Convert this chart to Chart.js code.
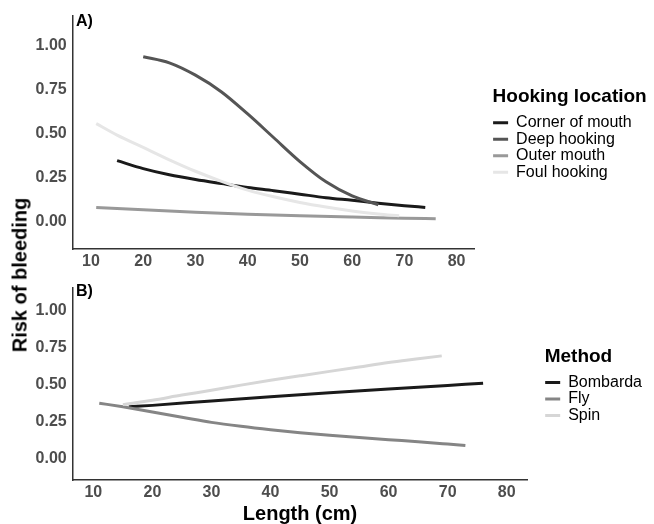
<!DOCTYPE html>
<html>
<head>
<meta charset="utf-8">
<script src="https://cdn.jsdelivr.net/npm/chart.js@4"></script>
<style>
	body { margin: 0; background: #fff; }
	#wrap { position: relative; width: 654px; height: 524px; font-family: "Liberation Sans", Arial, sans-serif; }
	canvas { position: absolute; left: 0; }
	#chart-a { top: 0; }
	#chart-b { top: 272px; }
	.panel-tag { position: absolute; left: 76px; font-weight: bold; font-size: 16px; line-height: 16px; color: #000; }
	#ytitle { position: absolute; left: 20px; top: 275px; transform: translate(-50%, -50%) rotate(-90deg); white-space: nowrap; font-weight: bold; font-size: 20px; color: #000; }
</style>
</head>
<body>
<div id="wrap">
	<canvas id="chart-a" width="654" height="272"></canvas>
	<canvas id="chart-b" width="654" height="252"></canvas>
	<div class="panel-tag" style="top: 13px;">A)</div>
	<div class="panel-tag" style="top: 283px;">B)</div>
	<div id="ytitle">Risk of bleeding</div>
</div>
<script>
// panel A - hooking location
const hookLabels = ["Corner of mouth", "Deep hooking", "Outer mouth", "Foul hooking"];
const cornerX = [15, 20, 25, 30, 35, 40, 45, 50, 55, 60, 65, 70, 74];
const cornerY = [0.345, 0.3, 0.265, 0.238, 0.215, 0.193, 0.175, 0.155, 0.135, 0.12, 0.104, 0.09, 0.08];
const deepX = [20, 25, 30, 35, 40, 45, 50, 55, 60, 65];
const deepY = [0.935, 0.9, 0.83, 0.735, 0.61, 0.475, 0.34, 0.225, 0.145, 0.095];
const outerX = [11, 20, 30, 40, 50, 60, 70, 76];
const outerY = [0.08, 0.066, 0.052, 0.041, 0.032, 0.025, 0.019, 0.015];
const foulX = [11, 15, 20, 25, 30, 35, 40, 45, 50, 55, 60, 65, 69];
const foulY = [0.555, 0.49, 0.42, 0.35, 0.285, 0.228, 0.178, 0.14, 0.108, 0.082, 0.06, 0.043, 0.032];

// panel B - method
const methodLabels = ["Bombarda", "Fly", "Spin"];
const bombX = [16, 20, 30, 40, 50, 60, 70, 76];
const bombY = [0.35, 0.36, 0.39, 0.418, 0.445, 0.47, 0.495, 0.51];
const flyX = [11, 15, 20, 25, 30, 35, 40, 45, 50, 55, 60, 65, 70, 73];
const flyY = [0.375, 0.35, 0.315, 0.28, 0.245, 0.218, 0.195, 0.175, 0.158, 0.143, 0.128, 0.114, 0.098, 0.088];
const spinX = [15, 20, 25, 30, 35, 40, 45, 50, 55, 60, 65, 69];
const spinY = [0.365, 0.395, 0.43, 0.462, 0.497, 0.53, 0.56, 0.59, 0.62, 0.65, 0.675, 0.695];

const xTicks = [10, 20, 30, 40, 50, 60, 70, 80];
const yTicks = [0, 0.25, 0.5, 0.75, 1];

const hookColors = ["#1a1a1a", "#555555", "#999999", "#e6e6e6"];
const methodColors = ["#1a1a1a", "#858585", "#d6d6d6"];

const fontFamily = "'Liberation Sans', Arial, sans-serif";
Chart.defaults.font.family = fontFamily;
Chart.defaults.responsive = false;
Chart.defaults.maintainAspectRatio = false;
Chart.defaults.animation = false;

function zip(xs, ys) {
	return xs.map((x, i) => ({ x: x, y: ys[i] }));
}

function makeSets(labels, xs, ys, colors) {
	const n = labels.length;
	return labels.map((label, i) => ({
		label: label,
		data: zip(xs[i], ys[i]),
		borderColor: colors[i],
		backgroundColor: colors[i],
		borderWidth: 3,
		pointRadius: 0,
		cubicInterpolationMode: "monotone",
		fill: false,
		order: n - i,
	}));
}

// legend box is clipped, so make it at least as wide as its title
const legendFit = {
	id: "legendFit",
	afterInit(chart) {
		const lg = chart.legend;
		const fit = lg.fit;
		lg.fit = function () {
			fit.call(this);
			const ctx = this.ctx;
			ctx.save();
			ctx.font = "bold 19px " + fontFamily;
			const w = ctx.measureText(this.options.title.text).width + 2;
			ctx.restore();
			if (w > this.width) this.width = w;
		};
	},
};

const tickFont = { size: 16, weight: "bold" };

function makeOptions(opts) {
	return {
		layout: { padding: { top: opts.padTop, right: opts.padRight, bottom: 0, left: 0 } },
		plugins: {
			tooltip: { enabled: false },
			legend: {
				position: "right",
				align: "center",
				fullSize: false,
				title: {
					display: true,
					text: opts.legendTitle,
					position: "start",
					color: "#000",
					font: { size: 19, weight: "bold" },
					padding: { top: 3.5, bottom: 4.2 },
				},
				labels: {
					color: "#000",
					font: { size: 16 },
					boxWidth: 15,
					boxHeight: 3,
					padding: 0.5,
					sort: (a, b) => a.datasetIndex - b.datasetIndex,
					generateLabels: function (chart) {
						return Chart.defaults.plugins.legend.labels.generateLabels(chart).map((l) => {
							l.fillStyle = l.strokeStyle;
							l.lineWidth = 0;
							return l;
						});
					},
				},
			},
		},
		scales: {
			x: {
				type: "linear",
				min: 6.5,
				max: 83.5,
				grid: { display: false, drawTicks: false },
				border: { display: true, color: "#333", width: 1.5 },
				afterBuildTicks: (s) => {
					s.ticks = xTicks.map((v) => ({ value: v }));
				},
				ticks: { color: "#4d4d4d", font: tickFont, padding: 3.2, maxRotation: 0 },
				title: {
					display: opts.xTitle,
					text: "Length (cm)",
					color: "#000",
					font: { size: 20, weight: "bold", lineHeight: 1 },
					padding: 0,
				},
				afterFit: (s) => {
					s.height = opts.xHeight;
				},
			},
			y: {
				type: "linear",
				min: opts.yMin,
				max: opts.yMax,
				grid: { display: false, drawTicks: false },
				border: { display: true, color: "#333", width: 1.5 },
				afterBuildTicks: (s) => {
					s.ticks = yTicks.map((v) => ({ value: v }));
				},
				ticks: {
					color: "#4d4d4d",
					font: tickFont,
					padding: 6,
					callback: (v) => v.toFixed(2),
				},
				afterFit: (s) => {
					s.width = 72.7;
				},
			},
			// hidden axis, only keeps a gap between panel and legend
			gap: {
				type: "linear",
				axis: "y",
				position: "right",
				display: false,
				afterFit: (s) => {
					s.width = opts.gap;
				},
			},
		},
	};
}

const ctxA = document.getElementById("chart-a").getContext("2d");
const ctxB = document.getElementById("chart-b").getContext("2d");

var chartA = new Chart(ctxA, {
	type: "line",
	data: {
		datasets: makeSets(hookLabels, [cornerX, deepX, outerX, foulX], [cornerY, deepY, outerY, foulY], hookColors),
	},
	options: makeOptions({ padTop: 12, padRight: 5.3, legendTitle: "Hooking location", xTitle: false, xHeight: 23, gap: 17.7, yMin: -0.156, yMax: 1.168 }),
	plugins: [legendFit],
});

var chartB = new Chart(ctxB, {
	type: "line",
	data: {
		datasets: makeSets(methodLabels, [bombX, flyX, spinX], [bombY, flyY, spinY], methodColors),
	},
	options: makeOptions({ padTop: 11, padRight: 2, legendTitle: "Method", xTitle: true, xHeight: 44, gap: 17.3, yMin: -0.145, yMax: 1.157 }),
	plugins: [legendFit],
});
</script>
</body>
</html>
